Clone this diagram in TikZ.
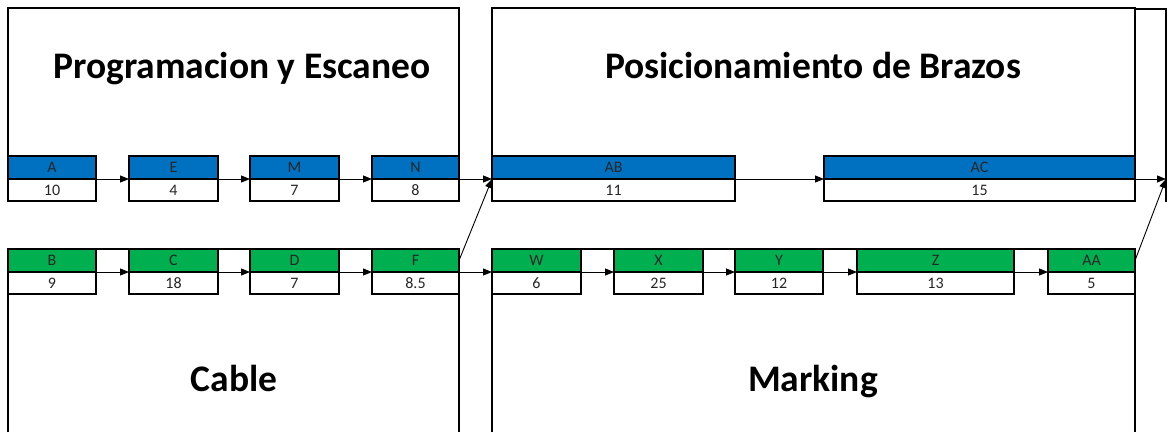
\documentclass[tikz,border=0pt]{standalone}
\usepackage{fontspec}
\setmainfont{Carlito}
\usetikzlibrary{arrows.meta}
\definecolor{xblue}{HTML}{0070C0}
\definecolor{xgreen}{HTML}{00B050}
\tikzset{
  frame/.style={line width=2.8pt, line join=miter},
  thinframe/.style={line width=1.3pt},
  hdr/.style={draw, line width=2.4pt, inner sep=0pt, outer sep=0pt, anchor=north west,
              minimum height=23pt, text=black!85, font=\fontsize{16}{18}\selectfont},
  val/.style={draw, line width=2.4pt, inner sep=0pt, outer sep=0pt, anchor=north west,
              fill=white, minimum height=22pt, text=black!85, font=\fontsize{16}{18}\selectfont},
  arr/.style={line width=0.9pt, -{Triangle[length=9pt,width=7pt]}},
  title/.style={font=\bfseries\fontsize{37.5}{44}\selectfont, anchor=base, inner sep=0pt},
}
\newcommand\tsk[7]{%
  \node[hdr, fill=#5, minimum width={#3-#2}] (#1) at (#2,#4) {#6};
  \node[val, minimum width={#3-#2}] (#1v) at (#1.south west) {#7};
}
\begin{document}
\begin{tikzpicture}[x=1pt,y=-1pt]
\useasboundingbox[fill=white] (0,0) rectangle (1168,432);
% frames
\draw[frame] (8,201) -- (8,8) -- (459,8) -- (459,201);
\draw[frame] (492,201) -- (492,8) -- (1135,8) -- (1135,201);
\draw[thinframe] (1135,9) -- (1166,9) -- (1166,202);
\draw[frame] (8,432) -- (8,249) -- (459,249) -- (459,432);
\draw[frame] (492,432) -- (492,249) -- (1135,249) -- (1135,432);
% titles
\node[title] (t1) at (242,78) {Programacion y Escaneo};
\node[title] (t2) at (813,78) {Posicionamiento de Brazos};
\node[title] (t3) at (234,391) {Cable};
\node[title] (t4) at (813,391) {Marking};
% top row
\tsk{A}{8}{96}{156}{xblue}{A}{10}
\tsk{E}{129}{218}{156}{xblue}{E}{4}
\tsk{M}{250}{339}{156}{xblue}{M}{7}
\tsk{N}{372}{459}{156}{xblue}{N}{8}
\tsk{AB}{492}{735}{156}{xblue}{AB}{11}
\tsk{AC}{824}{1135}{156}{xblue}{AC}{15}
% bottom row
\tsk{B}{8}{96}{249}{xgreen}{B}{9}
\tsk{C}{129}{218}{249}{xgreen}{C}{18}
\tsk{D}{250}{339}{249}{xgreen}{D}{7}
\tsk{F}{372}{459}{249}{xgreen}{F}{8.5}
\tsk{W}{492}{581}{249}{xgreen}{W}{6}
\tsk{X}{614}{703}{249}{xgreen}{X}{25}
\tsk{Y}{735}{823}{249}{xgreen}{Y}{12}
\tsk{Z}{857}{1014}{249}{xgreen}{Z}{13}
\tsk{AA}{1048}{1135}{249}{xgreen}{AA}{5}
\coordinate (endR) at (1166,179);
% arrows
\draw[arr] (A.south east) -- (E.south west);
\draw[arr] (E.south east) -- (M.south west);
\draw[arr] (M.south east) -- (N.south west);
\draw[arr] (N.south east) -- (AB.south west);
\draw[arr] (AB.south east) -- (AC.south west);
\draw[arr] (AC.south east) -- (endR);
\draw[arr] (B.south east) -- (C.south west);
\draw[arr] (C.south east) -- (D.south west);
\draw[arr] (D.south east) -- (F.south west);
\draw[arr] (F.south east) -- (W.south west);
\draw[arr] (W.south east) -- (X.south west);
\draw[arr] (X.south east) -- (Y.south west);
\draw[arr] (Y.south east) -- (Z.south west);
\draw[arr] (Z.south east) -- (AA.south west);
\draw[arr] (F.east) -- (AB.south west);
\draw[arr] (AA.east) -- (endR);
\end{tikzpicture}
\end{document}
